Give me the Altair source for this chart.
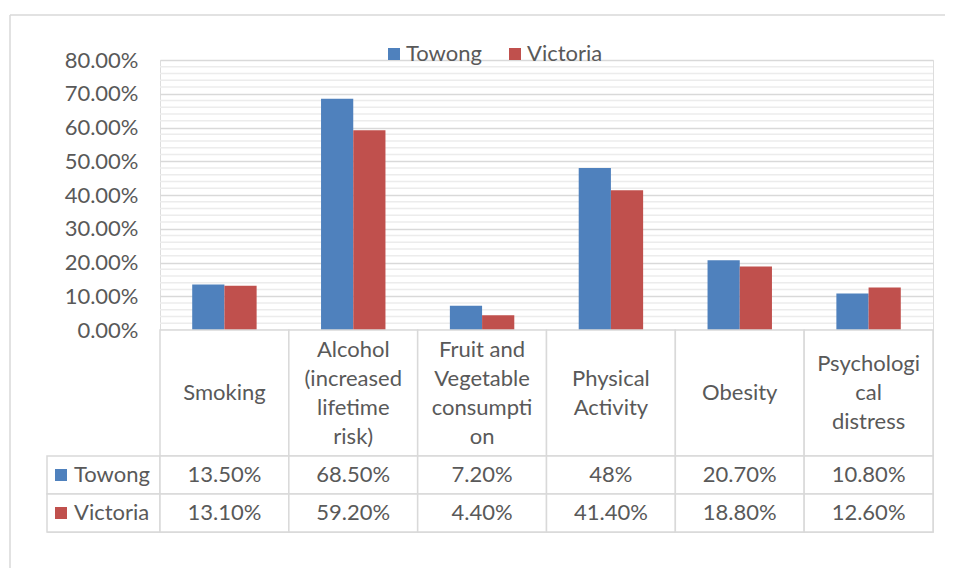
import altair as alt
import pandas as pd

categories = ["Smoking", "Alcohol (increased lifetime risk)", "Fruit and Vegetable consumption",
              "Physical Activity", "Obesity", "Psychological distress"]
header_lines = [["Smoking"], ["Alcohol", "(increased", "lifetime", "risk)"],
                ["Fruit and", "Vegetable", "consumpti", "on"],
                ["Physical", "Activity"], ["Obesity"], ["Psychologi", "cal", "distress"]]
series = ["Towong", "Victoria"]
towong = [0.135, 0.685, 0.072, 0.48, 0.207, 0.108]
victoria = [0.131, 0.592, 0.044, 0.414, 0.188, 0.126]
towong_text = ["13.50%", "68.50%", "7.20%", "48%", "20.70%", "10.80%"]
victoria_text = ["13.10%", "59.20%", "4.40%", "41.40%", "18.80%", "12.60%"]
colors = ["#4F81BD", "#C0504D"]
major_ticks = [0.0, 0.1, 0.2, 0.3, 0.4, 0.5, 0.6, 0.7, 0.8]
minor_ticks = [round(i * 0.02, 2) for i in range(41) if i % 5 != 0]

FONT = "Lato"
TXT = "#595959"
FS = 22
BORDER = "#d9d9d9"
W = 773
LW = 113
HH = 126
LINE_H = 29

df = pd.DataFrame({
    "category": categories * 2,
    "series": [series[0]] * 6 + [series[1]] * 6,
    "value": towong + victoria,
    "text": towong_text + victoria_text,
})
hdf = pd.DataFrame({"category": categories})
line_rows = []
for cat, lines in zip(categories, header_lines):
    n = len(lines)
    for i, t in enumerate(lines):
        line_rows.append({"category": cat, "line": t, "pos": (n - 1) / 2 - i})
hl = pd.DataFrame(line_rows)
ldf = pd.DataFrame({"series": series, "color": colors})
one = pd.DataFrame({"a": [0]})

x_enc = alt.X("category:N", sort=categories, scale=alt.Scale(paddingInner=0, paddingOuter=0), axis=None)
y_dom = alt.Scale(domain=[0, 0.8], nice=False)
y_axis = alt.Axis(values=major_ticks, format=".2%", grid=True, gridColor=BORDER, gridWidth=1.5,
                  domain=False, ticks=False, labelPadding=22, labelFontSize=FS,
                  labelColor=TXT, labelFont=FONT, title=None)

minor = alt.Chart(pd.DataFrame({"v": minor_ticks})).mark_rule(color="#ececec", strokeWidth=1.5).encode(
    y=alt.Y("v:Q", scale=y_dom, axis=y_axis, title=None)
)
bars = alt.Chart(df).mark_bar().encode(
    x=x_enc,
    xOffset=alt.XOffset("series:N", sort=series, scale=alt.Scale(paddingInner=0, paddingOuter=1)),
    y=alt.Y("value:Q", scale=y_dom, title=None, axis=y_axis),
    color=alt.Color("series:N", sort=series, scale=alt.Scale(domain=series, range=colors),
                    legend=alt.Legend(orient="none", legendX=223, legendY=-17, direction="horizontal",
                                      title=None, symbolType="square", symbolSize=144,
                                      symbolStrokeWidth=0, symbolOpacity=1, labelFontSize=FS,
                                      labelColor=TXT, labelFont=FONT, columnPadding=22,
                                      labelOffset=1)),
)
frame_h = alt.Chart(one).mark_rule(color=BORDER, strokeWidth=1.5).encode(
    x=alt.value(-150), x2=alt.value(785), y=alt.value(-45))
frame_v = alt.Chart(one).mark_rule(color=BORDER, strokeWidth=1.5).encode(
    x=alt.value(-150), y=alt.value(-45), y2=alt.value(508))
top = alt.layer(minor, bars, frame_h, frame_v).properties(width=W, height=270)

half = HH / LINE_H / 2
header_rect = alt.Chart(hdf).mark_rect(fill="white", stroke=BORDER, strokeWidth=1.5).encode(x=x_enc)
header_text = alt.Chart(hl).mark_text(fontSize=FS, color=TXT, font=FONT, baseline="middle").encode(
    x=x_enc,
    y=alt.Y("pos:Q", scale=alt.Scale(domain=[-half, half], nice=False, zero=False), axis=None),
    text="line:N")
header = alt.layer(header_rect, header_text).properties(width=W, height=HH)

ry = alt.Y("series:N", sort=series, axis=None, scale=alt.Scale(paddingInner=0, paddingOuter=0))
rows_rect = alt.Chart(df).mark_rect(fill="white", stroke=BORDER, strokeWidth=1.5).encode(x=x_enc, y=ry)
rows_text = alt.Chart(df).mark_text(fontSize=FS, color=TXT, font=FONT, baseline="middle").encode(
    x=x_enc, y=ry, text="text:N")
rows = alt.layer(rows_rect, rows_text).properties(width=W, height=76)

lab_rect = alt.Chart(ldf).mark_rect(fill="white", stroke=BORDER, strokeWidth=1.5).encode(y=ry)
lab_sq = alt.Chart(ldf).mark_square(size=144, opacity=1).encode(
    x=alt.value(14), y=ry, color=alt.Color("color:N", scale=None))
lab_text = alt.Chart(ldf).mark_text(align="left", fontSize=FS, color=TXT, font=FONT, baseline="middle").encode(
    x=alt.value(27), y=ry, text="series:N")
labcol = alt.layer(lab_rect, lab_sq, lab_text).properties(width=LW, height=76)

def blank(h):
    return alt.Chart(one).mark_text().encode(text=alt.value("")).properties(width=LW, height=h)

chart = alt.concat(
    blank(270), top, blank(HH), header, labcol, rows,
    columns=2, spacing=0, bounds="flush",
).properties(
    padding={"left": 0, "top": 5, "right": 0, "bottom": 0}
).resolve_scale(color="independent").configure_view(stroke=None).configure(font=FONT)

chart.save("out.html", embed_options={"renderer": "svg", "actions": False})
